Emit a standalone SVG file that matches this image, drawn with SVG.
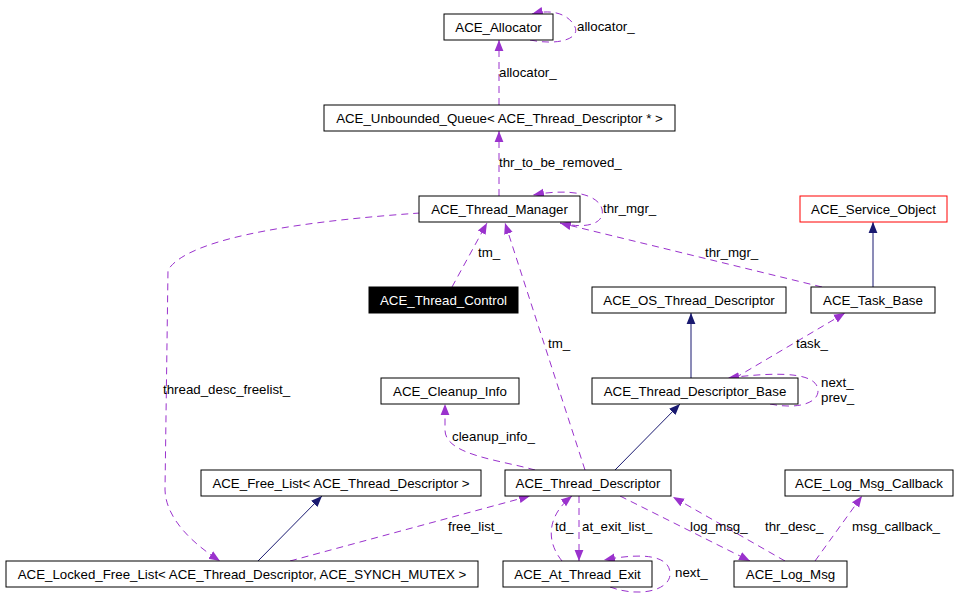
<svg xmlns="http://www.w3.org/2000/svg" width="965" height="601" viewBox="0 0 965 601">
<style>
.n rect{fill:#fff;stroke:#000;stroke-width:1}
text{font-family:"Liberation Sans",Arial,sans-serif;font-size:13.3px;fill:#000}
.n text{text-anchor:middle}
.e{fill:none;stroke:#9a32cd;stroke-width:1;stroke-dasharray:7,5}
.i{fill:none;stroke:#191970;stroke-width:1}
</style>
<defs>
<marker id="a" viewBox="0 0 10 10" refX="10" refY="5" markerWidth="11" markerHeight="11" markerUnits="userSpaceOnUse" orient="auto"><path d="M0,1 L10,5 L0,9 Z" fill="#9a32cd"/></marker>
<marker id="b" viewBox="0 0 10 10" refX="10" refY="5" markerWidth="11" markerHeight="11" markerUnits="userSpaceOnUse" orient="auto"><path d="M0,1 L10,5 L0,9 Z" fill="#191970"/></marker>
</defs>
<rect width="965" height="601" fill="#fff"/>
<g id="connectors">
<path class="e" d="M530,40 C560,46 580,38 575,27 C570,16 555,8 532,14" marker-end="url(#a)"/>
<path class="e" d="M499,105 L499,40" marker-end="url(#a)"/>
<path class="e" d="M499,196 L499,131" marker-end="url(#a)"/>
<path class="e" d="M560,223 C590,230 605,222 602,209 C598,194 570,188 533,195" marker-end="url(#a)"/>
<path class="e" d="M822,287 L560,223" marker-end="url(#a)"/>
<path class="e" d="M452,287 L487,223" marker-end="url(#a)"/>
<path class="e" d="M585,470 L505,223" marker-end="url(#a)"/>
<path class="e" d="M420,213 C320,220 190,235 168,270 L165,490 C166,520 195,545 220,561" marker-end="url(#a)"/>
<path class="i" d="M873,287 L873,222" marker-end="url(#b)"/>
<path class="i" d="M691,378 L691,313" marker-end="url(#b)"/>
<path class="e" d="M735,378 L845,313" marker-end="url(#a)"/>
<path class="e" d="M770,404 C800,410 818,402 818,391 C818,375 790,370 728,378" marker-end="url(#a)"/>
<path class="i" d="M615,470 L680,404" marker-end="url(#b)"/>
<path class="e" d="M535,470 C500,460 445,455 445,430 L445,404" marker-end="url(#a)"/>
<path class="i" d="M258,561 L322,496" marker-end="url(#b)"/>
<path class="e" d="M290,561 L530,496" marker-end="url(#a)"/>
<path class="e" d="M562,561 C545,540 548,515 572,496" marker-end="url(#a)"/>
<path class="e" d="M579,496 L579,561" marker-end="url(#a)"/>
<path class="e" d="M610,587 C640,598 670,590 670,574 C670,556 645,552 604,560" marker-end="url(#a)"/>
<path class="e" d="M620,496 L750,561" marker-end="url(#a)"/>
<path class="e" d="M785,561 L673,497" marker-end="url(#a)"/>
<path class="e" d="M815,561 L862,496" marker-end="url(#a)"/>
</g>
<g id="labels">
<text x="577" y="31">allocator_</text>
<text x="499" y="77">allocator_</text>
<text x="499" y="167">thr_to_be_removed_</text>
<text x="603" y="213">thr_mgr_</text>
<text x="705" y="257">thr_mgr_</text>
<text x="478" y="257">tm_</text>
<text x="548" y="348">tm_</text>
<text x="163" y="394">thread_desc_freelist_</text>
<text x="796" y="348">task_</text>
<text x="821" y="387">next_</text>
<text x="821" y="402">prev_</text>
<text x="452" y="441">cleanup_info_</text>
<text x="448" y="531">free_list_</text>
<text x="555" y="531">td_</text>
<text x="582" y="531">at_exit_list_</text>
<text x="690" y="531">log_msg_</text>
<text x="765" y="531">thr_desc_</text>
<text x="852" y="531">msg_callback_</text>
<text x="675" y="577">next_</text>
</g>
<g id="ACE_Allocator" class="n"><rect x="444" y="14" width="109" height="26"/><text x="498.5" y="32">ACE_Allocator</text></g>
<g id="ACE_Unbounded_Queue" class="n"><rect x="324" y="105" width="351" height="26"/><text x="499.5" y="123">ACE_Unbounded_Queue&lt; ACE_Thread_Descriptor * &gt;</text></g>
<g id="ACE_Thread_Manager" class="n"><rect x="419" y="196" width="161" height="26"/><text x="499.5" y="214">ACE_Thread_Manager</text></g>
<g id="ACE_Service_Object" class="n"><rect x="800" y="196" width="147" height="26" style="stroke:#f00"/><text x="873.5" y="214">ACE_Service_Object</text></g>
<g id="ACE_Thread_Control" class="n"><rect x="369" y="287" width="149" height="26" style="fill:#000"/><text x="443.5" y="305" style="fill:#fff">ACE_Thread_Control</text></g>
<g id="ACE_OS_Thread_Descriptor" class="n"><rect x="592" y="287" width="194" height="26"/><text x="689" y="305">ACE_OS_Thread_Descriptor</text></g>
<g id="ACE_Task_Base" class="n"><rect x="811" y="287" width="124" height="26"/><text x="873" y="305">ACE_Task_Base</text></g>
<g id="ACE_Cleanup_Info" class="n"><rect x="381" y="378" width="138" height="26"/><text x="450" y="396">ACE_Cleanup_Info</text></g>
<g id="ACE_Thread_Descriptor_Base" class="n"><rect x="592" y="378" width="206" height="26"/><text x="695" y="396">ACE_Thread_Descriptor_Base</text></g>
<g id="ACE_Free_List" class="n"><rect x="201" y="470" width="280" height="26"/><text x="341" y="488">ACE_Free_List&lt; ACE_Thread_Descriptor &gt;</text></g>
<g id="ACE_Thread_Descriptor" class="n"><rect x="505" y="470" width="166" height="26"/><text x="588" y="488">ACE_Thread_Descriptor</text></g>
<g id="ACE_Log_Msg_Callback" class="n"><rect x="785" y="470" width="168" height="26"/><text x="869" y="488">ACE_Log_Msg_Callback</text></g>
<g id="ACE_Locked_Free_List" class="n"><rect x="6" y="561" width="472" height="26"/><text x="242" y="579">ACE_Locked_Free_List&lt; ACE_Thread_Descriptor, ACE_SYNCH_MUTEX &gt;</text></g>
<g id="ACE_At_Thread_Exit" class="n"><rect x="503" y="561" width="149" height="26"/><text x="577.5" y="579">ACE_At_Thread_Exit</text></g>
<g id="ACE_Log_Msg" class="n"><rect x="734" y="561" width="113" height="26"/><text x="790.5" y="579">ACE_Log_Msg</text></g>
</svg>
